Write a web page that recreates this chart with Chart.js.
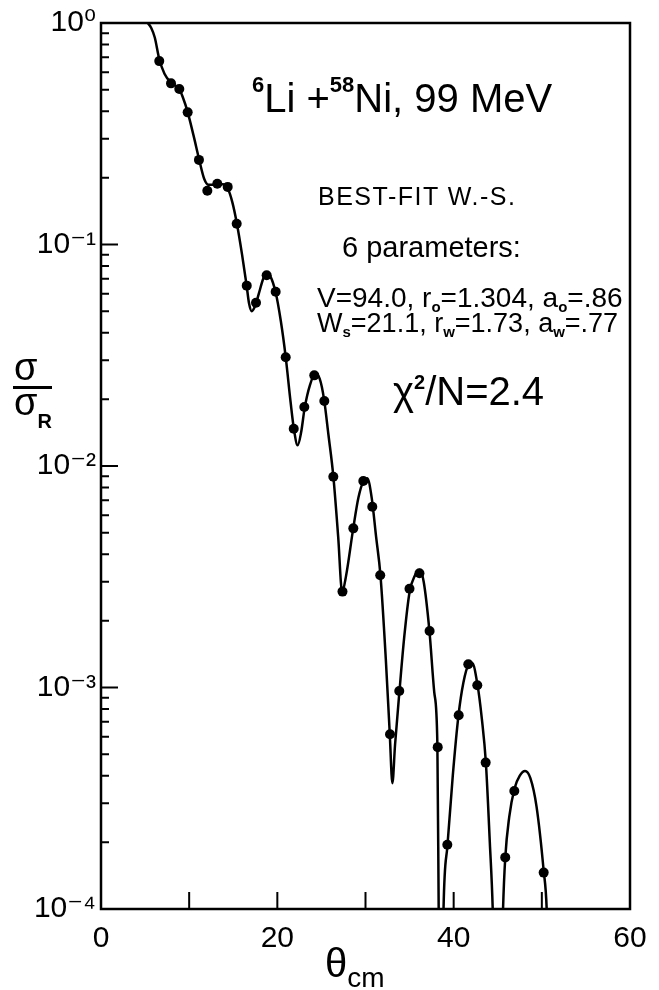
<!DOCTYPE html>
<html>
<head>
<meta charset="utf-8">
<script src="https://cdn.jsdelivr.net/npm/chart.js@4.4.0/dist/chart.umd.min.js"></script>
<style>
  body { margin: 0; background: #fff; }
  #wrap { position: relative; width: 659px; height: 990px; }
  canvas { position: absolute; left: 0; top: 0; }
  .t { position: absolute; white-space: nowrap; line-height: 1; color: #000;
       font-family: 'Liberation Sans', Arial, sans-serif; }
  .t sub, .t sup { line-height: 0; font-weight: bold; }
  .bar { position: absolute; background: #000; }
</style>
</head>
<body>
<div id="wrap">
  <canvas id="c" width="659" height="990"></canvas>

  <div class="t" style="left:252px;top:78px;font-size:40px"><sup style="font-size:22px;vertical-align:20px">6</sup>Li +<sup style="font-size:22px;vertical-align:20px">58</sup>Ni, 99 MeV</div>
  <div class="t" style="left:318px;top:184px;font-size:25px;letter-spacing:1.5px">BEST-FIT W.-S.</div>
  <div class="t" style="left:342px;top:233px;font-size:29px">6 parameters:</div>
  <div class="t" style="left:317px;top:284px;font-size:28px">V=94.0, r<sub style="font-size:15px;vertical-align:-5px">o</sub>=1.304, a<sub style="font-size:15px;vertical-align:-5px">o</sub>=.86</div>
  <div class="t" style="left:317px;top:310px;font-size:27px">W<sub style="font-size:15px;vertical-align:-5px">s</sub>=21.1, r<sub style="font-size:15px;vertical-align:-5px">w</sub>=1.73, a<sub style="font-size:15px;vertical-align:-5px">w</sub>=.77</div>
  <div class="t" style="left:393px;top:371px;font-size:40px">χ<sup style="font-size:20px;vertical-align:16px">2</sup>/N=2.4</div>

  <div class="t" style="left:14px;top:348px;font-size:38px">σ</div>
  <div class="bar" style="left:13px;top:386px;width:39px;height:2.5px"></div>
  <div class="t" style="left:14px;top:383px;font-size:38px">σ<sub style="font-size:20px;vertical-align:-13px">R</sub></div>

  <div class="t" style="left:325px;top:943px;font-size:40px">θ<sub style="font-size:28px;vertical-align:-10px;font-weight:normal">cm</sub></div>
</div>

<script>
// fitted curve
const curveTheta = [4.0, 4.8, 5.3, 5.7, 6.1, 6.6, 7.2, 7.9, 8.5, 8.9, 9.3, 9.8, 10.5, 11.1, 11.7, 12.2, 13.0, 13.8, 14.4, 14.9,
  15.4, 16.0, 16.5, 16.8, 17.1, 17.5, 17.9, 18.4, 18.8, 19.2, 19.8, 20.4, 20.95, 21.5, 21.9, 22.3, 22.7, 23.1, 23.7, 24.3,
  24.8, 25.3, 25.8, 26.35, 26.9, 27.35, 27.8, 28.6, 29.2, 29.8, 30.2, 30.7, 31.2, 31.7, 32.3, 32.75, 33.05, 33.35, 33.85, 34.4,
  35.0, 35.6, 36.15, 36.6, 37.25, 37.8, 38.15, 38.3, 38.5, 38.85, 39.3, 39.9, 40.55, 41.1, 41.7, 42.1, 42.7, 43.2, 43.65, 44.1,
  44.43, 45.0, 45.6, 45.85, 46.3, 46.9, 47.5, 48.1, 48.7, 49.4, 50.2, 50.55, 50.8];
const curveValue = [1.15, 1.05, 1.0, 0.95, 0.86, 0.69, 0.59, 0.54, 0.52, 0.50, 0.46, 0.40, 0.31, 0.245, 0.198, 0.186, 0.186, 0.187, 0.178, 0.155,
  0.125, 0.090, 0.066, 0.054, 0.050, 0.053, 0.060, 0.070, 0.0745, 0.072, 0.061, 0.045, 0.031, 0.0195, 0.0145, 0.0124, 0.0142, 0.0183, 0.0232, 0.0260,
  0.0248, 0.0200, 0.0138, 0.0090, 0.0048, 0.0027, 0.0032, 0.0052, 0.0072, 0.0086, 0.0088, 0.0072, 0.0048, 0.0032, 0.00135, 0.00062, 0.00037, 0.00055, 0.00096, 0.0017,
  0.0027, 0.0032, 0.0034, 0.0030, 0.0018, 0.00095, 0.00056, 0.0001, 0.00001, 0.0001, 0.000195, 0.00040, 0.00075, 0.00105, 0.00127, 0.00129, 0.00103, 0.00072, 0.00046, 0.0002,
  0.0001, 0.00001, 0.0001, 0.00017, 0.00026, 0.00035, 0.00040, 0.00042, 0.00039, 0.00029, 0.00015, 0.0001, 0.00004];

// measured points
const pointTheta = [6.61, 7.94, 8.88, 9.83, 11.11, 12.06, 13.19, 14.37, 15.39, 16.53, 17.58, 18.79, 19.81, 20.95, 21.86, 23.06, 24.19, 25.33, 26.35,
  27.39, 28.62, 29.75, 30.77, 31.67, 32.78, 33.83, 34.99, 36.12, 37.27, 38.19, 39.28, 40.57, 41.66, 42.68, 43.63, 45.85, 46.88, 50.21];
const pointValue = [0.673, 0.534, 0.504, 0.395, 0.241, 0.175, 0.188, 0.182, 0.124, 0.0652, 0.0546, 0.0726, 0.0612, 0.0310, 0.01474, 0.01846, 0.02566, 0.01965, 0.00895,
  0.00271, 0.00523, 0.00855, 0.00655, 0.00321, 0.000615, 0.000964, 0.00279, 0.00328, 0.00180, 0.000538, 0.000195, 0.000749, 0.001273, 0.001023, 0.000458, 0.000171, 0.000341, 0.000146];

// axes
const xTickValues = [0, 10, 20, 30, 40, 50, 60];
const xTickLabels = ['0', '', '20', '', '40', '', '60'];
const yDecades = [1e-4, 1e-3, 1e-2, 1e-1, 1];
const yDecadeLabels = ['10⁻⁴', '10⁻³', '10⁻²', '10⁻¹', '10⁰'];
const yMinorFactors = [2, 3, 4, 5, 6, 7, 8, 9];

const fontFamily = "'Liberation Sans', 'DejaVu Sans', sans-serif";

// frame and inward tick marks
const frameTicks = {
  id: 'frameTicks',
  afterDraw(chart) {
    const ctx = chart.ctx;
    const a = chart.chartArea;
    const x = chart.scales.x;
    const y = chart.scales.y;
    ctx.save();
    ctx.strokeStyle = '#000';
    ctx.lineWidth = 2;
    ctx.beginPath();
    y.ticks.forEach(function (t) {
      const py = y.getPixelForValue(t.value);
      const len = yDecades.indexOf(t.value) >= 0 ? 17 : 8;
      ctx.moveTo(a.left, py);
      ctx.lineTo(a.left + len, py);
    });
    x.ticks.forEach(function (t) {
      if (t.value <= x.min || t.value >= x.max) return;
      const px = x.getPixelForValue(t.value);
      ctx.moveTo(px, a.bottom);
      ctx.lineTo(px, a.bottom - 17);
    });
    ctx.stroke();
    ctx.lineWidth = 2.5;
    ctx.strokeRect(a.left, a.top, a.right - a.left, a.bottom - a.top);
    ctx.restore();
  }
};

new Chart(document.getElementById('c'), {
  type: 'line',
  data: {
    datasets: [
      {
        label: 'fit',
        data: curveTheta.map((t, i) => ({ x: t, y: curveValue[i] })),
        borderColor: '#000',
        borderWidth: 2.5,
        pointRadius: 0,
        fill: false,
        cubicInterpolationMode: 'monotone'
      },
      {
        label: 'data',
        data: pointTheta.map((t, i) => ({ x: t, y: pointValue[i] })),
        showLine: false,
        pointRadius: 5,
        pointBackgroundColor: '#000',
        pointBorderWidth: 0
      }
    ]
  },
  options: {
    responsive: false,
    animation: false,
    elements: { line: { capBezierPoints: false } },
    layout: { padding: { top: 23, right: 29, left: 0, bottom: 0 } },
    plugins: { legend: { display: false }, tooltip: { enabled: false } },
    scales: {
      x: {
        type: 'linear',
        min: 0,
        max: 60,
        grid: { display: false, drawTicks: false },
        border: { display: false },
        afterBuildTicks: function (scale) {
          scale.ticks = xTickValues.map(v => ({ value: v }));
        },
        afterFit: function (scale) { scale.height = 81; },
        ticks: {
          autoSkip: false,
          maxRotation: 0,
          padding: 12,
          color: '#000',
          font: { family: fontFamily, size: 30 },
          callback: function (v, i) { return xTickLabels[i]; }
        }
      },
      y: {
        type: 'logarithmic',
        min: 1e-4,
        max: 1,
        grid: { display: false, drawTicks: false },
        border: { display: false },
        afterBuildTicks: function (scale) {
          const list = [];
          yDecades.forEach(function (d, i) {
            list.push({ value: d });
            if (i < yDecades.length - 1) {
              yMinorFactors.forEach(f => list.push({ value: d * f }));
            }
          });
          scale.ticks = list;
        },
        afterFit: function (scale) { scale.width = 101; },
        ticks: {
          autoSkip: false,
          padding: 5,
          color: '#000',
          font: { family: fontFamily, size: 30 },
          callback: function (v) {
            const i = yDecades.indexOf(v);
            return i >= 0 ? yDecadeLabels[i] : '';
          }
        }
      }
    }
  },
  plugins: [frameTicks]
});
</script>
</body>
</html>
